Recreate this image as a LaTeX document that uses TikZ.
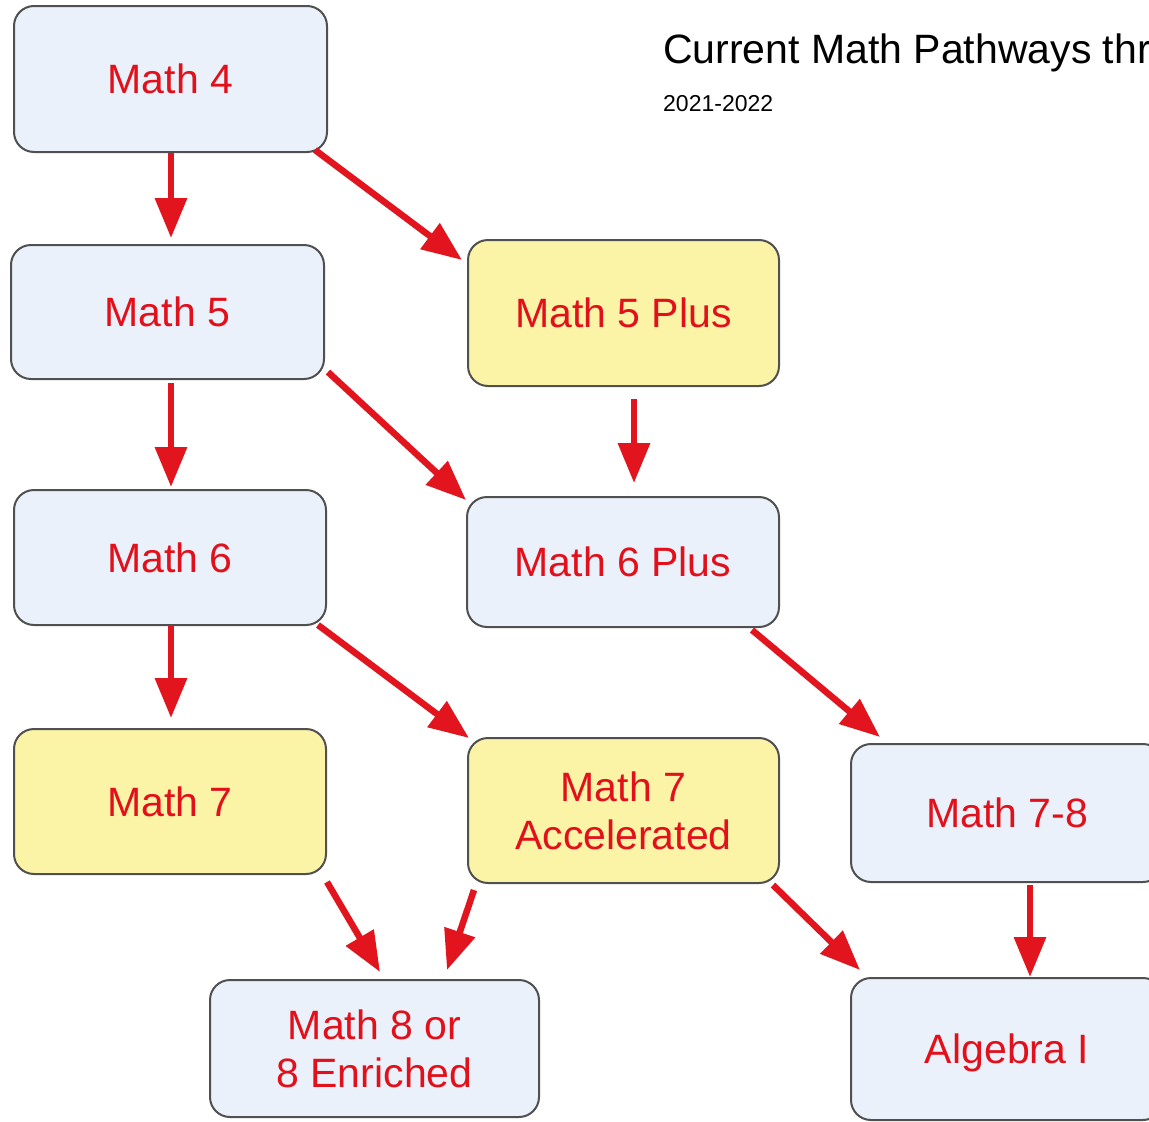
\documentclass[tikz,border=0pt]{standalone}
\usepackage{fontspec}
\setmainfont{Liberation Sans}
\usetikzlibrary{arrows.meta}
\definecolor{txtred}{RGB}{226,16,26}
\definecolor{arrred}{RGB}{226,20,30}
\definecolor{boxblue}{RGB}{234,241,250}
\definecolor{boxyellow}{RGB}{251,243,166}
\definecolor{boxline}{RGB}{80,80,80}
\tikzset{
  course/.style={draw=boxline, line width=2pt, rounded corners=20pt, fill=boxblue,
    text=txtred, font=\fontsize{41}{48}\selectfont, align=center, inner sep=0pt, outer sep=0pt},
  plus/.style={course, fill=boxyellow},
  arr/.style={draw=arrred, line width=6.5pt, -{Triangle[length=40pt,width=31pt]}},
}
\begin{document}
\begin{tikzpicture}[x=1pt,y=-1pt]
\useasboundingbox (0,0) rectangle (1149,1122);
\fill[white] (0,0) rectangle (1149,1122);
\begin{scope}
\clip (0,0) rectangle (1149,1122);
\node[course, minimum width=313pt, minimum height=146pt] (m4) at (170.5,79) {Math 4};
\node[course, minimum width=313pt, minimum height=134pt] (m5) at (167.5,312) {Math 5};
\node[plus, minimum width=311pt, minimum height=146pt] (m5p) at (623.5,313) {Math 5 Plus};
\node[course, minimum width=312pt, minimum height=135pt] (m6) at (170,557.5) {Math 6};
\node[course, minimum width=312pt, minimum height=130pt] (m6p) at (623,562) {Math 6 Plus};
\node[plus, minimum width=312pt, minimum height=145pt] (m7) at (170,801.5) {Math 7};
\node[plus, minimum width=311pt, minimum height=145pt] (m7a) at (623.5,810.5) {Math 7\\Accelerated};
\node[course, minimum width=312pt, minimum height=138pt] (m78) at (1007,813) {Math 7-8};
\node[course, minimum width=312pt, minimum height=142pt, text depth=0pt] (alg) at (1007,1049) {Algebra I};
\node[course, minimum width=329pt, minimum height=137pt] (m8) at (374.5,1048.5) {Math 8 or\\8 Enriched};
\node[anchor=base west, inner sep=0pt, font=\fontsize{41}{44}\selectfont] (title) at (663,63) {Current Math Pathways thr};
\end{scope}
\node[anchor=base west, inner sep=0pt, font=\fontsize{23}{25}\selectfont] (year) at (663,111) {2021-2022};
% arrows
\draw[arr] ([xshift=0.5pt,yshift=-1pt]m4.south) -- ([xshift=3.5pt,yshift=7pt]m5.north);
\draw[arr] ([xshift=-12pt,yshift=2pt]m4.south east) -- ([xshift=-6pt,yshift=-20pt]m5p.north west);
\draw[arr] ([xshift=3.5pt,yshift=-4pt]m5.south) -- ([xshift=1pt,yshift=3pt]m6.north);
\draw[arr] ([xshift=4pt,yshift=7pt]m5.south east) -- ([xshift=-1pt,yshift=-3pt]m6p.north west);
\draw[arr] ([xshift=10.5pt,yshift=-13pt]m5p.south) -- ([xshift=11pt,yshift=14pt]m6p.north);
\draw[arr] ([xshift=1pt]m6.south) -- ([xshift=1pt,yshift=11pt]m7.north);
\draw[arr] ([xshift=-8pt]m6.south east) -- ([xshift=1pt]m7a.north west);
\draw[arr] ([xshift=-27pt,yshift=-3pt]m6p.south east) -- ([xshift=29pt,yshift=7pt]m78.north west);
\draw[arr] ([xshift=1pt,yshift=-8pt]m7.south east) -- ([xshift=5.5pt,yshift=8pt]m8.north);
\draw[arr] ([xshift=6pt,yshift=-7pt]m7a.south west) -- ([xshift=72.5pt,yshift=10pt]m8.north);
\draw[arr] ([xshift=-6pt,yshift=-2pt]m7a.south east) -- ([xshift=9pt,yshift=8pt]alg.north west);
\draw[arr] ([xshift=23pt,yshift=-3pt]m78.south) -- ([xshift=23pt,yshift=1pt]alg.north);
\end{tikzpicture}
\end{document}
